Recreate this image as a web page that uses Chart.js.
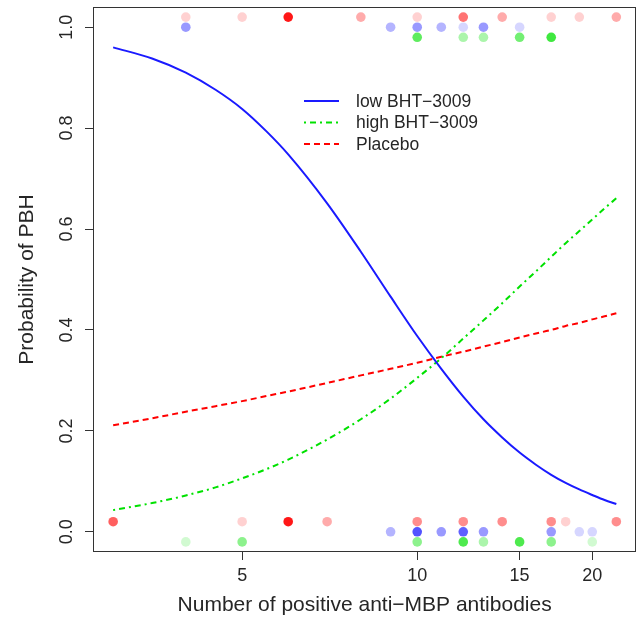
<!DOCTYPE html>
<html>
<head>
<meta charset="utf-8">
<title>Probability of PBH</title>
<script src="https://cdn.jsdelivr.net/npm/chart.js@4.4.0/dist/chart.umd.min.js"></script>
<style>
    html, body { margin: 0; padding: 0; background: #fff; }
</style>
</head>
<body>
<canvas id="myChart" width="641" height="621"></canvas>
<script>
'use strict'
// fitted curves (extra half steps at the low end where the log axis is wide)
const antibodyCounts = [3, 3.5, 4, 4.5, 5, 5.5, 6, 7, 8, 9, 10, 11, 12, 13, 14, 15, 16, 17, 18, 19, 20, 21, 22];
const lowFit     = [0.960, 0.938, 0.910, 0.876, 0.838, 0.794, 0.748, 0.651, 0.555, 0.466, 0.388, 0.323, 0.268, 0.223, 0.187, 0.157, 0.133, 0.113, 0.097, 0.084, 0.073, 0.063, 0.055];
const highFit    = [0.043, 0.057, 0.072, 0.088, 0.106, 0.124, 0.143, 0.183, 0.223, 0.264, 0.305, 0.344, 0.383, 0.419, 0.453, 0.486, 0.516, 0.545, 0.572, 0.596, 0.619, 0.641, 0.661];
const placeboFit = [0.211, 0.225, 0.238, 0.249, 0.259, 0.269, 0.278, 0.295, 0.310, 0.323, 0.335, 0.347, 0.357, 0.367, 0.376, 0.385, 0.393, 0.400, 0.408, 0.414, 0.421, 0.427, 0.433];

// observed patients: antibody count and how many patients sit on that spot
const placeboYesX = [4, 5, 6, 8, 10, 12, 14, 17, 19, 22];
const placeboYesN = [1, 1, 12, 2, 1, 4, 2, 1, 1, 2];
const placeboNoX  = [3, 5, 6, 7, 10, 12, 14, 17, 18, 22];
const placeboNoN  = [5, 1, 12, 2, 3, 3, 3, 3, 1, 3];
const lowYesX = [4, 9, 10, 11, 12, 13, 15];
const lowYesN = [3, 2, 3, 2, 1, 3, 1];
const lowNoX  = [9, 10, 11, 12, 13, 17, 19, 20];
const lowNoN  = [2, 7, 3, 6, 3, 3, 1, 1];
const highYesX = [10, 12, 13, 15, 17];
const highYesN = [5, 2, 2, 4, 7];
const highNoX  = [4, 5, 10, 12, 13, 15, 17, 20];
const highNoN  = [1, 3, 3, 6, 2, 6, 3, 1];

const groupNames = ['low BHT\u22123009', 'high BHT\u22123009', 'Placebo'];
const xTicks = [5, 10, 15, 20];
const yTicks = [0, 0.2, 0.4, 0.6, 0.8, 1.0];
const yTickLabels = ['0.0', '0.2', '0.4', '0.6', '0.8', '1.0'];

const FONT = "'Liberation Sans', Arial, Helvetica, sans-serif";
const TEXT = '#262626';
Chart.defaults.font.family = FONT;

const blue = [26, 26, 255];
const green = [0, 225, 0];
const red = [255, 0, 0];

function curve(xs, ys) {
    let out = [];
    for (let i = 0; i < xs.length; i++) out.push({x: xs[i], y: ys[i]});
    return out;
}

// outcome row, nudged a little per group like in the original plot
function dots(label, xs, ns, y, rgb) {
    let data = xs.map(x => ({x: x, y: y}));
    let colors = ns.map(n => 'rgba(' + rgb.join(',') + ',' + (1 - Math.pow(0.82, n)).toFixed(3) + ')');
    return {
        label: label,
        data: data,
        showLine: false,
        pointRadius: 4.8,
        pointBorderWidth: 0,
        pointBackgroundColor: colors,
        pointBorderColor: colors
    };
}

function lineSet(label, ys, rgb, dash) {
    return {
        label: label,
        data: curve(antibodyCounts, ys),
        showLine: true,
        borderColor: 'rgb(' + rgb.join(',') + ')',
        borderWidth: 2,
        borderDash: dash,
        pointRadius: 0,
        cubicInterpolationMode: 'monotone',
        fill: false
    };
}

const lineSets = [
    lineSet(groupNames[0], lowFit, blue, []),
    lineSet(groupNames[1], highFit, green, [2, 4, 6, 4]),
    lineSet(groupNames[2], placeboFit, red, [6, 4])
];

const boxPlugin = {
    id: 'box',
    afterDraw(chart) {
        const ctx = chart.ctx;
        const a = chart.chartArea;
        ctx.save();
        ctx.strokeStyle = '#333';
        ctx.lineWidth = 1;
        ctx.strokeRect(Math.round(a.left) + 0.5, Math.round(a.top) + 0.5,
            Math.round(a.right - a.left) - 1, Math.round(a.bottom - a.top) - 1);

        // y tick labels, turned like the R axis
        const ys = chart.scales.y;
        ctx.fillStyle = TEXT;
        ctx.font = '18px ' + FONT;
        ctx.textAlign = 'center';
        ctx.textBaseline = 'middle';
        for (let i = 0; i < yTicks.length; i++) {
            const py = ys.getPixelForValue(yTicks[i]);
            ctx.save();
            ctx.translate(67, py);
            ctx.rotate(-Math.PI / 2);
            ctx.fillText(yTickLabels[i], 0, 0);
            ctx.restore();
        }

        // legend without a frame
        ctx.font = '17.5px ' + FONT;
        ctx.textAlign = 'left';
        for (let i = 0; i < lineSets.length; i++) {
            const ds = lineSets[i];
            const ly = 101 + i * 21.5;
            ctx.beginPath();
            ctx.setLineDash(ds.borderDash);
            ctx.strokeStyle = ds.borderColor;
            ctx.lineWidth = 2;
            ctx.moveTo(304, ly);
            ctx.lineTo(339, ly);
            ctx.stroke();
            ctx.setLineDash([]);
            ctx.fillStyle = TEXT;
            ctx.fillText(ds.label, 356, ly + 1);
        }
        ctx.restore();
    }
};

const ctx = document.getElementById('myChart').getContext('2d');
const myChart = new Chart(ctx, {
    type: 'scatter',
    data: {
        datasets: lineSets.concat([
            dots('placebo yes', placeboYesX, placeboYesN, 1.02, red),
            dots('placebo no', placeboNoX, placeboNoN, 0.02, red),
            dots('low yes', lowYesX, lowYesN, 1.0, blue),
            dots('low no', lowNoX, lowNoN, 0.0, blue),
            dots('high yes', highYesX, highYesN, 0.98, green),
            dots('high no', highNoX, highNoN, -0.02, green)
        ])
    },
    options: {
        responsive: false,
        animation: false,
        layout: {padding: {top: 7, right: 3, left: 0, bottom: 0}},
        plugins: {legend: {display: false}, tooltip: {enabled: false}},
        scales: {
            x: {
                type: 'logarithmic',
                min: 2.77,
                max: 23.8,
                afterBuildTicks: (scale) => { scale.ticks = xTicks.map(v => ({value: v})); },
                afterFit: (scale) => { scale.height = 69; },
                ticks: {
                    color: TEXT, font: {size: 18}, padding: 5,
                    autoSkip: false, maxRotation: 0,
                    callback: (v) => String(v)
                },
                grid: {drawOnChartArea: false, drawTicks: true, tickLength: 8, color: '#333'},
                border: {display: false},
                title: {
                    display: true, text: 'Number of positive anti\u2212MBP antibodies',
                    color: TEXT, font: {size: 21}, padding: {top: 0, bottom: 3}
                }
            },
            y: {
                min: -0.04,
                max: 1.04,
                afterBuildTicks: (scale) => { scale.ticks = yTicks.map(v => ({value: v})); },
                afterFit: (scale) => { scale.width = 93; },
                ticks: {display: false},
                grid: {drawOnChartArea: false, drawTicks: true, tickLength: 8, color: '#333'},
                border: {display: false},
                title: {
                    display: true, text: 'Probability of PBH',
                    color: TEXT, font: {size: 21}, padding: {top: 15, bottom: 0}
                }
            }
        }
    },
    plugins: [boxPlugin]
});
</script>
</body>
</html>
